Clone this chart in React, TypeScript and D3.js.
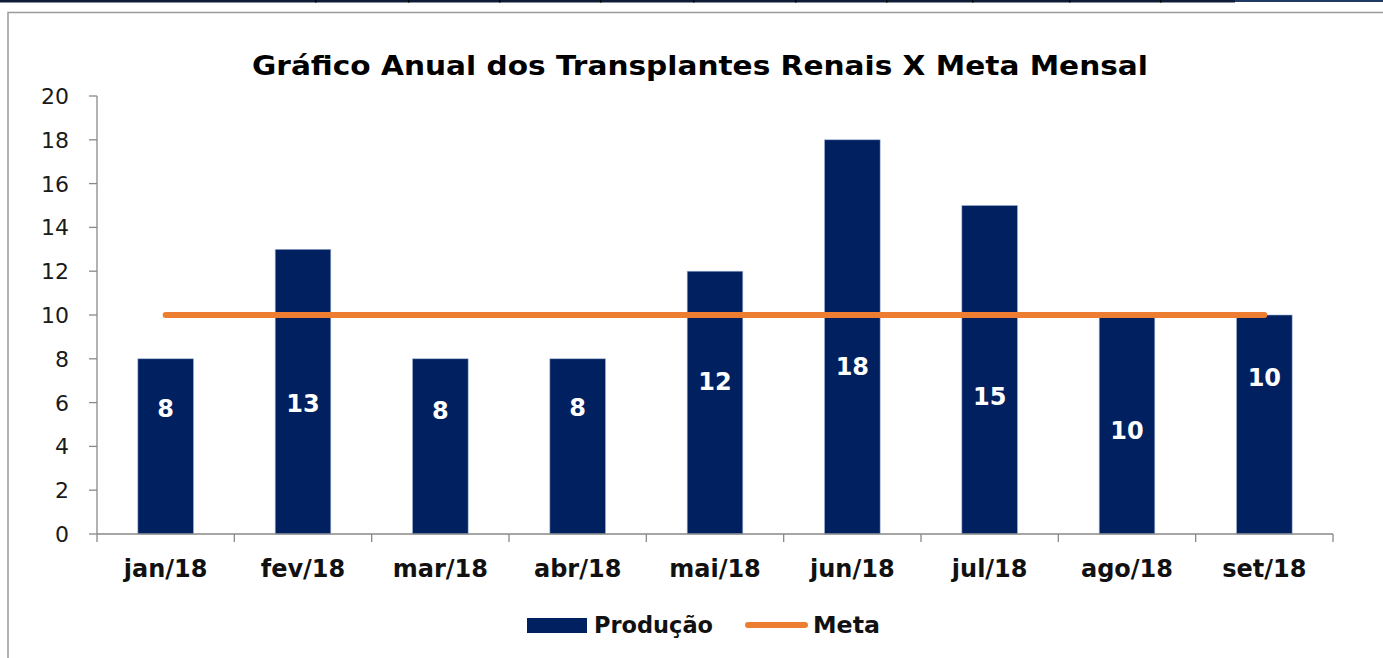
import React from "react";
import * as d3 from "d3";

const categories = ["jan/18", "fev/18", "mar/18", "abr/18", "mai/18", "jun/18", "jul/18", "ago/18", "set/18"];
const producao = [8, 13, 8, 8, 12, 18, 15, 10, 10];
const meta = [10, 10, 10, 10, 10, 10, 10, 10, 10];
// where each value label sits inside its bar (in data units)
const labelAnchor = [5.75, 5.98, 5.66, 5.8, 6.99, 7.67, 6.3, 4.75, 7.17];
const yTicks = [0, 2, 4, 6, 8, 10, 12, 14, 16, 18, 20];
const title = "Gráfico Anual dos Transplantes Renais X Meta Mensal";
const seriesNames = ["Produção", "Meta"];
const topSeparators = [315, 408, 499, 600, 693, 795, 886, 972, 1069, 1160];

const W = 1383;
const H = 658;
const FONT = "'DejaVu Sans', sans-serif";
const NAVY = "#002060";
const ORANGE = "#ED7D31";
const AXIS = "#898989";

export default function App() {
  const left = 97, right = 1333, top = 96, bottom = 534;
  const x = d3.scaleBand<string>().domain(categories).range([left, right]).paddingInner(0).paddingOuter(0);
  const y = d3.scaleLinear().domain([0, 20]).range([bottom, top]);
  const bw = x.bandwidth();
  const barW = bw * 0.405;
  const cx = (c: string) => (x(c) as number) + bw / 2;
  const lineGen = d3.line<number>().x((_, i) => cx(categories[i])).y((d) => y(d));
  const boundaries = categories.map((c) => x(c) as number).concat([right]);

  return (
    <svg width={W} height={H} style={{ position: "absolute", left: 0, top: 0, background: "#fff" }} fontFamily={FONT}>
      {/* top strip */}
      <rect x={0} y={0} width={1235} height={2.5} fill="#0e1c38" />
      {topSeparators.map((s) => (
        <rect key={s} x={s} y={0} width={1.5} height={2.5} fill="#000" />
      ))}
      <rect x={1235} y={0} width={W - 1235} height={2} fill="#1f3864" />
      {/* chart frame */}
      <rect x={8} y={12.5} width={1500} height={800} fill="none" stroke="#9a9a9a" strokeWidth={1.5} />

      {/* title */}
      <text x={700} y={75} textAnchor="middle" fontSize={26.5} fontWeight="bold" fill="#000" textLength={896} lengthAdjust="spacingAndGlyphs">
        {title}
      </text>

      {/* y axis */}
      <line x1={left} x2={left} y1={top} y2={bottom} stroke={AXIS} strokeWidth={1.3} />
      {yTicks.map((t) => (
        <g key={t}>
          <line x1={left - 8} x2={left} y1={y(t)} y2={y(t)} stroke={AXIS} strokeWidth={1.3} />
          <text x={69} y={y(t)} dy="0.36em" textAnchor="end" fontSize={22} fill="#1a1a1a">
            {t}
          </text>
        </g>
      ))}

      {/* bars */}
      {producao.map((v, i) => (
        <rect key={i} x={cx(categories[i]) - barW / 2} y={y(v)} width={barW} height={bottom - y(v)} fill={NAVY} stroke="#9fb3d6" strokeWidth={0.6} />
      ))}

      {/* x axis */}
      <line x1={left} x2={right} y1={bottom} y2={bottom} stroke={AXIS} strokeWidth={1.3} />
      {boundaries.map((b, i) => (
        <line key={i} x1={b} x2={b} y1={bottom} y2={bottom + 8} stroke={AXIS} strokeWidth={1.3} />
      ))}
      {categories.map((c) => (
        <text key={c} x={cx(c)} y={577} textAnchor="middle" fontSize={24} fontWeight="bold" fill="#111">
          {c}
        </text>
      ))}

      {/* meta line */}
      <path d={lineGen(meta) || ""} fill="none" stroke={ORANGE} strokeWidth={6} strokeLinecap="round" />

      {/* value labels */}
      {producao.map((v, i) => (
        <text key={i} x={cx(categories[i])} y={y(labelAnchor[i])} dy="0.36em" textAnchor="middle" fontSize={24} fontWeight="bold" fill="#fff">
          {v}
        </text>
      ))}

      {/* legend */}
      <rect x={527} y={618} width={60} height={15} fill={NAVY} />
      <text x={594} y={633} fontSize={22.5} fontWeight="bold" fill="#111" textLength={119} lengthAdjust="spacingAndGlyphs">{seriesNames[0]}</text>
      <line x1={748} x2={805} y1={625} y2={625} stroke={ORANGE} strokeWidth={6} strokeLinecap="round" />
      <text x={813} y={633} fontSize={23} fontWeight="bold" fill="#111" textLength={67} lengthAdjust="spacingAndGlyphs">{seriesNames[1]}</text>
    </svg>
  );
}
